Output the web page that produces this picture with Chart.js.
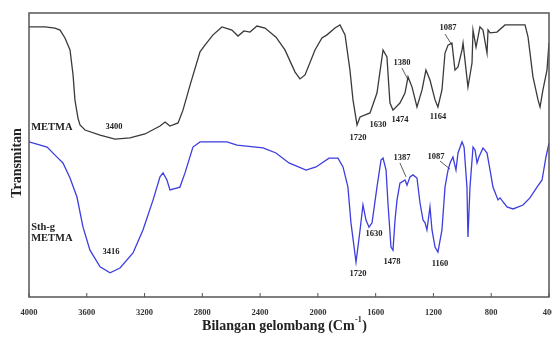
<!DOCTYPE html>
<html>
<head>
<meta charset="utf-8">
<script src="https://cdn.jsdelivr.net/npm/chart.js@4/dist/chart.umd.min.js"></script>
<style>
  html, body { margin: 0; padding: 0; background: #fff; }
  #wrap { width: 552px; height: 343px; position: relative; }
</style>
</head>
<body>
<div id="wrap"><canvas id="ftir"></canvas></div>
<script>
// x axis: wavenumber (cm-1), ticks every 400
var tickLabels = [4000, 3600, 3200, 2800, 2400, 2000, 1600, 1200, 800, 400];

// METMA (black trace)
var metmaWave = [4000, 3889, 3820, 3785, 3751, 3716, 3695, 3682, 3661, 3647, 3612, 3508, 3405, 3301, 3197,
  3093, 3058, 3024, 2968, 2934, 2885, 2816, 2782, 2726, 2664, 2595, 2553, 2512, 2470, 2422, 2366,
  2290, 2228, 2158, 2124, 2089, 2020, 1972, 1937, 1882, 1847, 1812, 1778, 1757, 1729, 1708, 1639,
  1591, 1549, 1522, 1501, 1480, 1432, 1397, 1376, 1348, 1314, 1279, 1252, 1224, 1189, 1169, 1141,
  1120, 1099, 1072, 1051, 1030, 1002, 995, 961, 933, 926, 905, 878, 857, 829, 822, 808, 760, 705,
  566, 545, 511, 476, 462, 442, 414, 400];
var metmaT = [95.1, 95.1, 94.7, 94.0, 91.2, 87.0, 78.2, 69.4, 63.0, 60.6, 58.8, 57.0, 55.6, 56.0, 57.4,
  60.2, 61.6, 60.2, 61.3, 65.8, 74.6, 86.3, 88.7, 92.3, 95.1, 94.0, 91.9, 93.7, 93.3, 95.4, 94.7,
  91.5, 87.0, 79.2, 76.8, 78.2, 87.0, 91.2, 92.3, 94.7, 95.8, 92.3, 79.9, 69.4, 60.6, 63.4, 64.8,
  71.8, 87.0, 84.5, 68.3, 65.8, 68.3, 71.8, 77.5, 73.9, 66.9, 72.9, 79.9, 76.4, 69.4, 66.9, 72.9,
  85.9, 88.7, 89.4, 79.9, 81.0, 87.0, 89.4, 73.9, 82.4, 94.0, 88.0, 95.1, 94.0, 85.9, 94.0, 93.0, 93.3, 95.8,
  95.8, 91.5, 77.5, 69.4, 66.9, 72.9, 79.9, 89.4];

// grafted METMA (blue trace)
var graftWave = [4000, 3875, 3799, 3765, 3716, 3668, 3626, 3578, 3508, 3439, 3370, 3280, 3211, 3141, 3093,
  3072, 3045, 3024, 2955, 2920, 2865, 2816, 2629, 2560, 2380, 2290, 2200, 2082, 2013, 1923, 1861,
  1826, 1792, 1771, 1736, 1708, 1688, 1667, 1646, 1625, 1591, 1563, 1549, 1528, 1515, 1494, 1480,
  1466, 1452, 1432, 1397, 1383, 1362, 1342, 1314, 1293, 1272, 1258, 1245, 1224, 1210, 1189, 1169,
  1141, 1120, 1099, 1085, 1065, 1044, 1030, 1002, 988, 968, 961, 947, 926, 912, 898, 885, 857, 829,
  808, 788, 753, 739, 691, 649, 580, 532, 483, 448, 421, 400];
var graftT = [54.6, 52.8, 48.9, 47.2, 41.9, 35.2, 24.6, 16.5, 10.6, 8.5, 10.2, 15.5, 23.6, 34.2, 42.3,
  43.7, 41.2, 37.7, 38.7, 43.7, 52.8, 54.6, 54.6, 53.5, 52.5, 50.7, 47.2, 44.7, 45.8, 48.9, 48.9,
  45.8, 38.7, 26.1, 12.3, 23.6, 32.4, 27.1, 24.6, 26.1, 38.7, 48.2, 48.9, 44.7, 33.1, 17.6, 16.5,
  27.1, 34.2, 40.1, 41.2, 39.4, 42.3, 43.0, 41.9, 33.1, 27.1, 26.1, 23.6, 31.7, 23.6, 17.6, 15.8,
  23.6, 38.7, 44.7, 47.2, 49.3, 44.7, 50.7, 54.6, 52.8, 38.7, 21.1, 38.7, 52.8, 51.8, 47.2, 49.3, 52.5, 50.7,
  44.7, 38.7, 34.2, 34.9, 31.7, 31.0, 32.4, 34.9, 38.7, 41.2, 49.3, 54.2];

// peak annotations: [text, wavenumber, transmittance, align]
var metmaNotes = [["METMA", 3985, 59.9, "left"], ["3400", 3412, 59.9, "center"], ["1720", 1722, 56.0, "center"],
  ["1630", 1584, 60.6, "center"], ["1474", 1432, 62.3, "center"], ["1380", 1418, 82.4, "center"],
  ["1164", 1169, 63.4, "center"], ["1087", 1099, 94.7, "center"]];
var graftNotes = [["Sth-g", 3985, 24.6, "left"], ["METMA", 3985, 20.8, "left"], ["3416", 3432, 15.8, "center"],
  ["1387", 1418, 48.9, "center"], ["1087", 1182, 49.3, "center"], ["1630", 1612, 22.2, "center"],
  ["1478", 1487, 12.3, "center"], ["1720", 1722, 8.3, "center"], ["1160", 1155, 11.6, "center"]];
// leader lines: [fromWave, fromT, toWave, toT]
var leaders = [[1418, 80.6, 1376, 76.5], [1120, 92.6, 1072, 88.7], [1432, 47.2, 1390, 42.3], [1155, 47.9, 1085, 45.0]];

function pts(w, t) {
  return w.map(function (v, i) { return { x: v, y: t[i] }; });
}

var serif = '"Liberation Serif", "Times New Roman", serif';

var decor = {
  id: 'decor',
  afterDatasetsDraw: function (chart) {
    var ctx = chart.ctx, a = chart.chartArea;
    var xs = chart.scales.x, ys = chart.scales.y;
    ctx.save();
    // frame
    ctx.strokeStyle = '#555';
    ctx.lineWidth = 1.5;
    ctx.strokeRect(a.left, a.top, a.right - a.left, a.bottom - a.top);
    // inward ticks
    ctx.lineWidth = 1;
    tickLabels.forEach(function (t) {
      var px = xs.getPixelForValue(t);
      ctx.beginPath();
      ctx.moveTo(px, a.bottom);
      ctx.lineTo(px, a.bottom - 4);
      ctx.stroke();
    });
    // leaders
    ctx.strokeStyle = '#333';
    ctx.lineWidth = 0.8;
    leaders.forEach(function (l) {
      ctx.beginPath();
      ctx.moveTo(xs.getPixelForValue(l[0]), ys.getPixelForValue(l[1]));
      ctx.lineTo(xs.getPixelForValue(l[2]), ys.getPixelForValue(l[3]));
      ctx.stroke();
    });
    // annotations
    ctx.fillStyle = '#222';
    ctx.textBaseline = 'middle';
    metmaNotes.concat(graftNotes).forEach(function (n) {
      ctx.font = (isNaN(+n[0]) ? 'bold 10.5px ' : 'bold 8.5px ') + serif;
      ctx.textAlign = n[3];
      ctx.fillText(n[0], xs.getPixelForValue(n[1]), ys.getPixelForValue(n[2]));
    });
    // x axis title with superscript
    var big = 'bold 14px ' + serif, small = 'bold 8px ' + serif;
    var p1 = 'Bilangan gelombang (Cm', p2 = '-1', p3 = ')';
    ctx.font = big; var w1 = ctx.measureText(p1).width, w3 = ctx.measureText(p3).width;
    ctx.font = small; var w2 = ctx.measureText(p2).width;
    var x0 = 284 - (w1 + w2 + w3) / 2;
    ctx.textAlign = 'left';
    ctx.font = big; ctx.fillText(p1, x0, 326);
    ctx.font = small; ctx.fillText(p2, x0 + w1 + 0.5, 320);
    ctx.font = big; ctx.fillText(p3, x0 + w1 + w2 + 1, 326);
    // y axis title
    ctx.textAlign = 'center';
    ctx.translate(17, 163);
    ctx.rotate(-Math.PI / 2);
    ctx.fillText('Transmitan', 0, 0);
    ctx.restore();
  }
};

new Chart(document.getElementById('ftir'), {
  type: 'line',
  data: {
    datasets: [{
      label: 'METMA',
      data: pts(metmaWave, metmaT),
      borderColor: '#3a3a3a',
      borderWidth: 1.3,
      pointRadius: 0,
      tension: 0
    }, {
      label: 'Sth-g METMA',
      data: pts(graftWave, graftT),
      borderColor: '#3d3de0',
      borderWidth: 1.3,
      pointRadius: 0,
      tension: 0
    }]
  },
  options: {
    responsive: true,
    maintainAspectRatio: false,
    animation: false,
    layout: { padding: { left: 29, right: 3, top: 13, bottom: 0 } },
    plugins: { legend: { display: false }, tooltip: { enabled: false } },
    scales: {
      x: {
        type: 'linear',
        reverse: true,
        min: 400,
        max: 4000,
        afterBuildTicks: function (s) { s.ticks = tickLabels.map(function (v) { return { value: v }; }); },
        ticks: {
          autoSkip: false, maxRotation: 0, padding: 11, color: '#333',
          font: { family: serif, size: 8.5, weight: 'bold' },
          callback: function (v) { return String(v); }
        },
        grid: { display: false, drawTicks: false },
        border: { display: false },
        afterFit: function (s) { s.height = 46; s.paddingLeft = 0; s.paddingRight = 0; }
      },
      y: {
        min: 0,
        max: 100,
        ticks: { display: false },
        grid: { display: false, drawTicks: false },
        border: { display: false },
        afterFit: function (s) { s.width = 0; }
      }
    }
  },
  plugins: [decor]
});
</script>
</body>
</html>
